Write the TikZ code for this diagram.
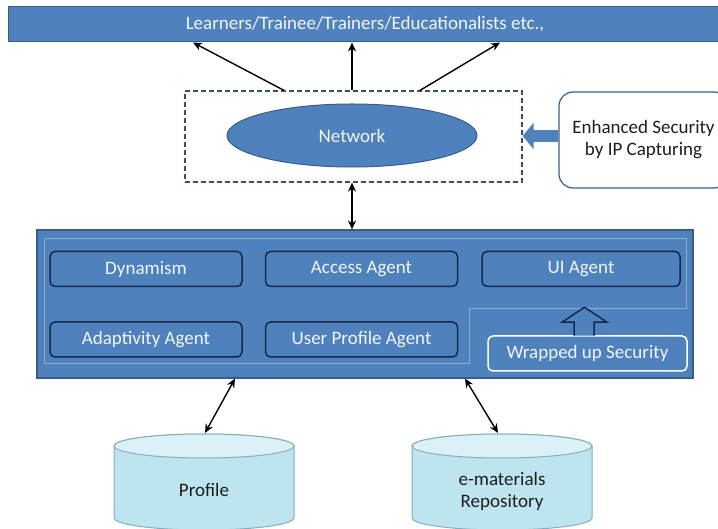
\documentclass[tikz,border=0pt]{standalone}
\usepackage{fontspec}
\setmainfont{Carlito}
\usetikzlibrary{arrows.meta,calc,shapes.geometric}
\definecolor{mblue}{HTML}{4F81BD}
\definecolor{bdark}{HTML}{385D8A}
\definecolor{navy}{HTML}{17284A}
\definecolor{innerline}{HTML}{8FAAD0}
\definecolor{cylfill}{HTML}{BEE4EF}
\definecolor{cyltop}{HTML}{DCF1F7}
\definecolor{cylline}{HTML}{86AEBE}
\definecolor{dashc}{HTML}{3A4E6E}
\definecolor{txt}{HTML}{1E1E1E}
\definecolor{ltext}{HTML}{F2F5FA}
\tikzset{
  banner/.style={draw=bdark, line width=1pt, fill=mblue, text=ltext,
    minimum width=714pt, minimum height=35pt, inner sep=0pt},
  netbox/.style={draw=dashc, line width=1.2pt, dash pattern=on 5pt off 3pt,
    minimum width=337pt, minimum height=91pt, inner sep=0pt},
  netell/.style={ellipse, draw=bdark, line width=1pt, fill=mblue, text=ltext,
    minimum width=250pt, minimum height=63pt, inner sep=0pt},
  secbox/.style={draw=bdark, line width=1.2pt, rounded corners=14pt, fill=white,
    text=txt, align=center, minimum width=169pt, minimum height=96pt, inner sep=0pt},
  container/.style={draw=bdark, line width=1.2pt, fill=mblue,
    minimum width=656pt, minimum height=148pt, inner sep=0pt},
  agent/.style={draw=navy, line width=1.5pt, fill=mblue, rounded corners=5pt,
    text=ltext, minimum width=192pt, minimum height=35pt, inner sep=0pt},
  wrapbox/.style={draw=white, line width=1.5pt, fill=mblue, rounded corners=5pt,
    text=ltext, minimum width=199pt, minimum height=35pt, inner sep=0pt},
  cylbody/.style={draw=cylline, line width=1pt, fill=cylfill},
  cyltopst/.style={draw=cylline, line width=1pt, fill=cyltop},
  cyltext/.style={text=txt, align=center, inner sep=0pt},
  uarrow/.style={line width=1.4pt, black, -{Stealth[length=9pt,width=8pt]}},
  link/.style={line width=1.4pt, black, {Stealth[length=9pt,width=8pt]}-{Stealth[length=9pt,width=8pt]}},
  blockarrow/.style={line width=12pt, mblue, -{Triangle[length=11pt,width=26pt]}},
  hollowarrow/.style={draw=navy, line width=1.5pt, fill=mblue, line join=miter},
}
\begin{document}
\begin{tikzpicture}[x=1pt,y=1pt,font=\fontsize{19}{22}\selectfont]
\useasboundingbox (0,0) rectangle (718,528);
\fill[white] (0,0) rectangle (718,528);

% top banner
\node[banner] (users) at (365,503.5) {Learners/Trainee/Trainers/Educationalists etc.,};

% network area
\node[netbox] (net) at (353.5,391.5) {};
\node[netell] (network) at (352,392.5) {Network};

% security box
\node[secbox] (sec) at (643.5,388) {Enhanced Security\\by IP Capturing};

% agents container
\node[container] (agents) at (365,224) {};
\draw[innerline, line width=0.8pt] (44,290) -- (686,290) -- (686,220) -- (469,220) -- (469,165) -- (44,165) -- cycle;

\node[agent] (dyn) at (146,259) {Dynamism};
\node[agent] (access) at (361.5,259) {Access Agent};
\node[agent, minimum width=198pt] (ui) at (581,259) {UI Agent};
\node[agent] (adapt) at (146,188.5) {Adaptivity Agent};
\node[agent] (uprof) at (361.5,188.5) {User Profile Agent};
\node[wrapbox] (wrap) at (587.5,174.5) {Wrapped up Security};

% hollow up arrow
\draw[hollowarrow] ($(wrap.north)+(-13.5,-0.5)$) -- ($(wrap.north)+(-13.5,13)$)
  -- ($(wrap.north)+(-25.5,13)$) -- ($(wrap.north)+(-3,28)$)
  -- ($(wrap.north)+(19.5,13)$) -- ($(wrap.north)+(6.5,13)$)
  -- ($(wrap.north)+(6.5,-0.5)$);

% cylinders
\draw[cylbody] (114,82) -- (114,10) arc[start angle=180,end angle=360,x radius=90,y radius=12]
  -- (294,82) arc[start angle=0,end angle=180,x radius=90,y radius=12] -- cycle;
\draw[cyltopst] (204,82) ellipse[x radius=90,y radius=12];
\node[cyltext] (profile) at (204,38) {Profile};
\coordinate (proftop) at (205,95);

\draw[cylbody] (412,82) -- (412,10) arc[start angle=180,end angle=360,x radius=90,y radius=12]
  -- (592,82) arc[start angle=0,end angle=180,x radius=90,y radius=12] -- cycle;
\draw[cyltopst] (502,82) ellipse[x radius=90,y radius=12];
\node[cyltext] (repo) at (502,37) {e-materials\\Repository};
\coordinate (repotop) at (498,95);

% connectors
\draw[uarrow] ([xshift=-69.5pt]net.north) -- ([xshift=-172pt]users.south);
\draw[uarrow] ([xshift=-1.5pt]net.north) -- ([xshift=-13pt]users.south);
\draw[uarrow] ([xshift=66.5pt]net.north) -- ([xshift=135pt]users.south);
\draw[link] ([xshift=-1.5pt]net.south) -- ([xshift=-13pt]agents.north);
\draw[link] ([xshift=-130pt]agents.south) -- (proftop);
\draw[link] ([xshift=100pt]agents.south) -- (repotop);
\coordinate (secw) at ([yshift=4pt]sec.west);
\draw[blockarrow] (secw) -- (net.east |- secw);
\end{tikzpicture}
\end{document}
